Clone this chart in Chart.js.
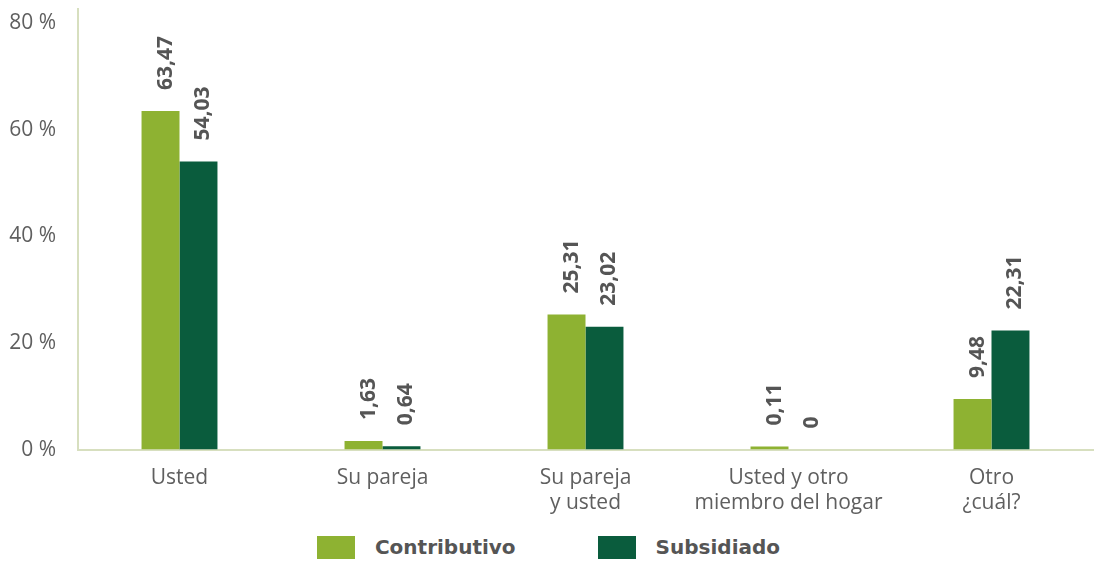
<!DOCTYPE html>
<html>
<head>
<meta charset="utf-8">
<script src="https://cdn.jsdelivr.net/npm/chart.js@4"></script>
<style>
  html, body { margin: 0; padding: 0; background: #fff; }
  body { width: 1095px; height: 564px; overflow: hidden; font-family: "DejaVu Sans", sans-serif; }
  #wrap { position: relative; width: 1095px; height: 524px; }
  .legend { display: flex; justify-content: center; align-items: center; gap: 82px; height: 46px; padding-left: 2px; }
  .legend .item { display: flex; align-items: center; gap: 20px; font-weight: 700; font-size: 20px; color: #555; }
  .legend .box { width: 38px; height: 23px; }
</style>
</head>
<body>
<div id="wrap"><canvas id="chart"></canvas></div>
<div class="legend">
  <div class="item"><span class="box" style="background:#8eb232"></span>Contributivo</div>
  <div class="item"><span class="box" style="background:#0a5c3d"></span>Subsidiado</div>
</div>
<script>
const categories = [
  'Usted',
  'Su pareja',
  ['Su pareja', 'y usted'],
  ['Usted y otro', 'miembro del hogar'],
  ['Otro', '¿cuál?']
];
const contributivo = [63.47, 1.63, 25.31, 0.11, 9.48];
const subsidiado = [54.03, 0.64, 23.02, 0, 22.31];
const yTicks = [0, 20, 40, 60, 80];

const fmt = v => v === 0 ? '0' : v.toFixed(2).replace('.', ',');
const tickFont = { family: '"Open Sans", sans-serif', size: 21 };

// vertical value labels above each bar
const barLabels = {
  id: 'barLabels',
  afterDatasetsDraw(chart) {
    const ctx = chart.ctx;
    ctx.save();
    ctx.font = 'bold 21px "Open Sans", sans-serif';
    ctx.fillStyle = '#555';
    ctx.textAlign = 'left';
    ctx.textBaseline = 'middle';
    chart.data.datasets.forEach((ds, i) => {
      chart.getDatasetMeta(i).data.forEach((bar, j) => {
        ctx.save();
        ctx.translate(bar.x + 5, bar.y - 21);
        ctx.rotate(-Math.PI / 2);
        ctx.fillText(fmt(ds.data[j]), 0, 0);
        ctx.restore();
      });
    });
    ctx.restore();
  }
};

new Chart(document.getElementById('chart'), {
  type: 'bar',
  data: {
    labels: categories,
    datasets: [
      { label: 'Contributivo', data: contributivo, backgroundColor: '#8eb232', minBarLength: 3 },
      { label: 'Subsidiado', data: subsidiado, backgroundColor: '#0a5c3d' }
    ]
  },
  options: {
    responsive: true,
    maintainAspectRatio: false,
    animation: false,
    layout: { padding: { top: 9, right: 2, bottom: 0, left: 0 } },
    plugins: { legend: { display: false }, tooltip: { enabled: false } },
    datasets: { bar: { categoryPercentage: 0.374, barPercentage: 1 } },
    scales: {
      x: {
        grid: { display: false },
        border: { color: '#d7dfbf', width: 2 },
        ticks: { color: '#5f5f5f', font: tickFont, padding: 8, maxRotation: 0, autoSkip: false }
      },
      y: {
        min: 0,
        max: 82.6,
        afterBuildTicks: s => { s.ticks = yTicks.map(v => ({ value: v })); },
        afterFit: s => { s.width = 78; s.paddingTop = 0; s.paddingBottom = 0; },
        grid: { display: false },
        border: { color: '#d7dfbf', width: 2 },
        ticks: { color: '#5f5f5f', font: tickFont, padding: 14, callback: v => v + ' %' }
      }
    }
  },
  plugins: [barLabels]
});
</script>
</body>
</html>
